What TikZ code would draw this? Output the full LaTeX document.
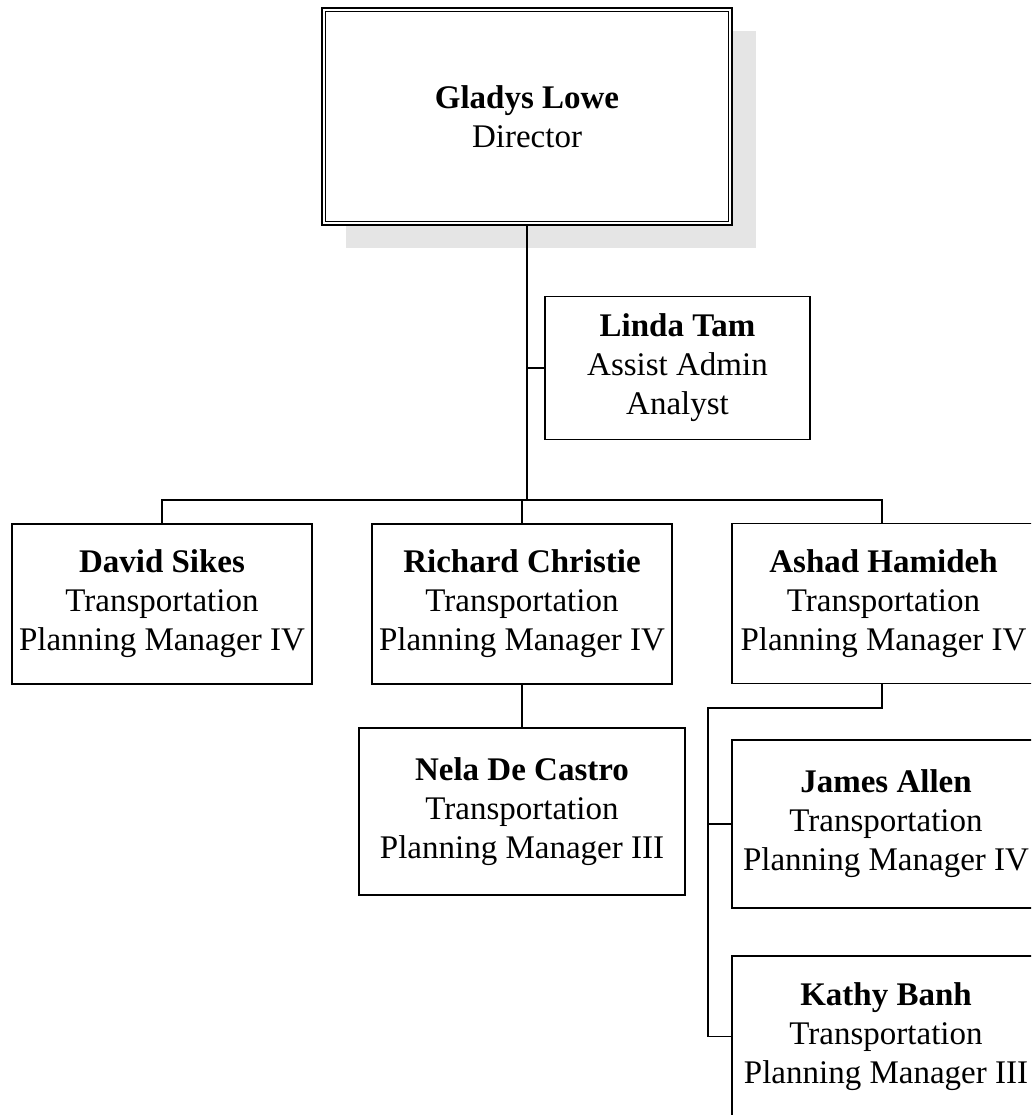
\documentclass[tikz,border=0pt]{standalone}
\usepackage{fontspec}
\setmainfont{Liberation Serif}
\usetikzlibrary{shadows}
\definecolor{shadowgray}{HTML}{E5E5E5}
\begin{document}
\begin{tikzpicture}[x=1pt,y=-1pt,
  every node/.style={inner sep=0pt,align=center,font=\fontsize{33}{39}\selectfont},
  person/.style={draw=black,line width=1.5pt,fill=white,rectangle},
  link/.style={draw=black,line width=1.5pt}]
\useasboundingbox (0,0) rectangle (1031,1115);
\clip (0,0) rectangle (1031,1115);
% boxes
\node[person,line width=2.2pt,minimum width=410pt,minimum height=217pt,
  drop shadow={shadow xshift=24pt,shadow yshift=-23pt,fill=shadowgray,opacity=1}]
  (gladys) at (527,116.5) {\textbf{Gladys Lowe}\\Director};
\draw[line width=1pt] ([xshift=5pt,yshift=-5pt]gladys.north west) rectangle ([xshift=-5pt,yshift=5pt]gladys.south east);
\node[person,minimum width=265pt,minimum height=143pt] (linda) at (677.5,368)
  {\textbf{Linda Tam}\\Assist Admin\\Analyst};
\node[person,minimum width=300pt,minimum height=160pt] (david) at (162,604)
  {\textbf{David Sikes}\\Transportation\\Planning Manager IV};
\node[person,minimum width=300pt,minimum height=160pt] (richard) at (522,604)
  {\textbf{Richard Christie}\\Transportation\\Planning Manager IV};
\node[person,minimum width=303pt,minimum height=160pt] (ashad) at (883.5,603.5)
  {\textbf{Ashad Hamideh}\\Transportation\\Planning Manager IV};
\node[person,minimum width=326pt,minimum height=167pt] (nela) at (522,811.5)
  {\textbf{Nela De Castro}\\Transportation\\Planning Manager III};
\node[person,minimum width=308pt,minimum height=168pt] (james) at (886,824)
  {\textbf{James Allen}\\Transportation\\Planning Manager IV};
\node[person,minimum width=308pt,minimum height=161pt] (kathy) at (886,1036.5)
  {\textbf{Kathy Banh}\\Transportation\\Planning Manager III};
% connectors
\coordinate (bus) at (527,500);
\coordinate (aj) at (708,708);
\coordinate (aTop) at (882,523.5);
\coordinate (aBot) at (882,683.5);
\draw[link] (gladys.south) -- (bus);
\draw[link] (linda.west) -- (linda.west -| gladys.south);
\draw[link] (david.north) |- (bus) -| (aTop);
\draw[link] (richard.north) -- (richard.north |- bus);
\draw[link] (richard.south) -- (nela.north);
\draw[link] (aBot) |- (aj) -- (aj |- kathy.west) -- (kathy.west);
\draw[link] (james.west) -- (james.west -| aj);
\end{tikzpicture}
\end{document}
